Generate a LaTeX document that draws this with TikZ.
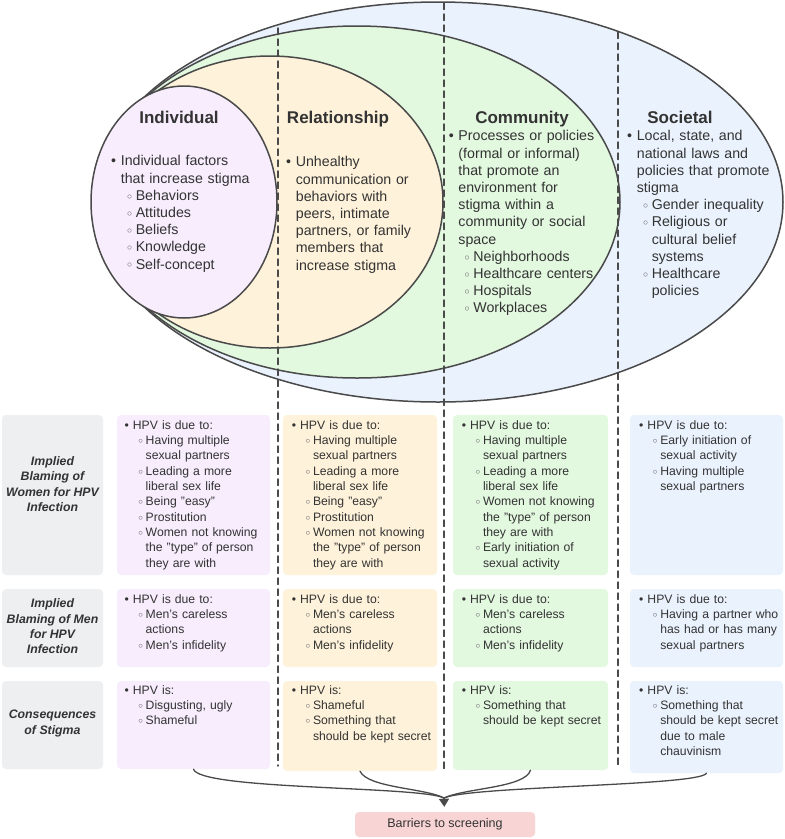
\documentclass[tikz,border=0pt]{standalone}
\usepackage{fontspec}
\setmainfont{Liberation Sans}
\usepackage{tikz}
\usetikzlibrary{positioning}
\usetikzlibrary{calc}
\usetikzlibrary{arrows.meta}
\definecolor{inkgray}{HTML}{4A4A4A}
\definecolor{txt}{HTML}{333333}
\definecolor{subgray}{HTML}{6A6A6A}
\definecolor{indfill}{HTML}{F7EDFD}
\definecolor{relfill}{HTML}{FEF2DA}
\definecolor{comfill}{HTML}{E2F8DF}
\definecolor{socfill}{HTML}{EAF2FD}
\definecolor{labfill}{HTML}{EEEFF1}
\definecolor{barfill}{HTML}{F9D4D4}
\newcommand{\bul}{\par\hangindent=0.68em\hangafter=1\noindent\makebox[0.68em][l]{\textbullet}}
\newcommand{\sbul}{\par\hangindent=1.73em\hangafter=1\noindent\hspace*{1.12em}\makebox[0.61em][l]{\raisebox{0.09em}{\textcolor{subgray}{$\scriptstyle\circ$}}}}
\tikzset{
  eltext/.style={anchor=north west,inner sep=0pt,text width=175pt,align=left,
    font=\fontsize{14.2}{17.2}\selectfont,text=txt},
  boxtext/.style={anchor=north west,inner sep=0pt,text width=160pt,align=left,
    font=\fontsize{12.2}{15.3}\selectfont,text=txt},
  lvltitle/.style={anchor=base,inner sep=0pt,font=\fontsize{17}{20}\selectfont\bfseries,text=txt},
  rowbox/.style={draw=none,rounded corners=4pt,inner sep=0pt},
  rowlabel/.style={inner sep=0pt,align=center,font=\fontsize{12.3}{15.3}\selectfont\bfseries\itshape,text=txt},
  ring/.style={draw=inkgray,line width=1.5pt},
  divider/.style={draw=inkgray,line width=1.4pt,dash pattern=on 6.5pt off 4.5pt},
  brace/.style={draw=inkgray,line width=1.3pt}
}
\begin{document}
\begin{tikzpicture}[x=1pt,y=-1pt,line cap=round,line join=round]
\useasboundingbox (0,0) rectangle (785,839);
\fill[white] (0,0) rectangle (785,839);
\draw[ring,fill=socfill] (438,202) ellipse [x radius=345pt,y radius=200pt];
\draw[ring,fill=comfill] (357,202) ellipse [x radius=263pt,y radius=176pt];
\draw[ring,fill=relfill] (270,202) ellipse [x radius=173pt,y radius=146pt];
\draw[ring,fill=indfill] (184,202) ellipse [x radius=93pt,y radius=116pt];
\draw[divider] (278,28) -- (278,766);
\draw[divider] (444,3) -- (444,772);
\draw[divider] (618,32) -- (618,766);
\node[lvltitle] (tind) at (179,123) {Individual};
\node[lvltitle] (trel) at (338,123) {Relationship};
\node[lvltitle] (tcom) at (522,123) {Community};
\node[lvltitle] (tsoc) at (680,123) {Societal};
\node[eltext] (xind) at (111,148.5) {\bul Individual factors\newline that increase stigma
  \sbul Behaviors \sbul Attitudes \sbul Beliefs \sbul Knowledge \sbul Self-concept\par};
\node[eltext] (xrel) at (286,149.5) {\bul Unhealthy\newline communication or\newline behaviors with\newline
  peers, intimate\newline partners, or family\newline members that\newline increase stigma\par};
\node[eltext] (xcom) at (448.6,123.5) {\bul Processes or policies\newline (formal or informal)\newline
  that promote an\newline environment for\newline stigma within a\newline community or social\newline space
  \sbul Neighborhoods \sbul Healthcare centers \sbul Hospitals \sbul Workplaces\par};
\node[eltext] (xsoc) at (627,123.5) {\bul Local, state, and\newline national laws and\newline
  policies that promote\newline stigma \sbul Gender inequality \sbul Religious or\newline cultural belief\newline
  systems \sbul Healthcare\newline policies\par};
\node[rowbox,fill=labfill,minimum width=101pt,minimum height=160pt] (l1) at (52.5,495) {};
\node[rowbox,fill=indfill,minimum width=153pt,minimum height=160pt] (w1) at (193.5,495) {};
\node[rowbox,fill=relfill,minimum width=154pt,minimum height=160pt] (w2) at (360,495) {};
\node[rowbox,fill=comfill,minimum width=155pt,minimum height=160pt] (w3) at (530.5,495) {};
\node[rowbox,fill=socfill,minimum width=153pt,minimum height=160pt] (w4) at (706.5,495) {};
\node[rowbox,fill=labfill,minimum width=101pt,minimum height=78pt] (l2) at (52.5,628) {};
\node[rowbox,fill=indfill,minimum width=153pt,minimum height=78pt] (m1) at (193.5,628) {};
\node[rowbox,fill=relfill,minimum width=154pt,minimum height=78pt] (m2) at (360,628) {};
\node[rowbox,fill=comfill,minimum width=155pt,minimum height=78pt] (m3) at (530.5,628) {};
\node[rowbox,fill=socfill,minimum width=153pt,minimum height=78pt] (m4) at (706.5,628) {};
\node[rowbox,fill=labfill,minimum width=101pt,minimum height=88pt] (l3) at (52.5,725) {};
\node[rowbox,fill=indfill,minimum width=153pt,minimum height=88pt] (c1) at (193.5,725) {};
\node[rowbox,fill=relfill,minimum width=154pt,minimum height=90pt] (c2) at (360,726) {};
\node[rowbox,fill=comfill,minimum width=155pt,minimum height=89pt] (c3) at (530.5,725.5) {};
\node[rowbox,fill=socfill,minimum width=153pt,minimum height=92pt] (c4) at (706.5,727) {};
\node[rowlabel] (ll1) at (52.5,484) {Implied\\Blaming of\\Women for HPV\\Infection};
\node[rowlabel] (ll2) at (52.5,626.3) {Implied\\Blaming of Men\\for HPV\\Infection};
\node[rowlabel] (ll3) at (52.5,723.4) {Consequences\\of Stigma};
\node[boxtext] (tw1) at (124.4,413.8) {\bul HPV is due to: \sbul Having multiple\newline sexual partners
  \sbul Leading a more\newline liberal sex life \sbul Being "easy" \sbul Prostitution
  \sbul Women not knowing\newline the "type" of person\newline they are with\par};
\node[boxtext] (tw2) at (291.7,413.8) {\bul HPV is due to: \sbul Having multiple\newline sexual partners
  \sbul Leading a more\newline liberal sex life \sbul Being "easy" \sbul Prostitution
  \sbul Women not knowing\newline the "type" of person\newline they are with\par};
\node[boxtext] (tw3) at (461.7,413.8) {\bul HPV is due to: \sbul Having multiple\newline sexual partners
  \sbul Leading a more\newline liberal sex life \sbul Women not knowing\newline the "type" of person\newline
  they are with \sbul Early initiation of\newline sexual activity\par};
\node[boxtext] (tw4) at (639,413.8) {\bul HPV is due to: \sbul Early initiation of\newline sexual activity
  \sbul Having multiple\newline sexual partners\par};
\node[boxtext] (tm1) at (124.4,587.8) {\bul HPV is due to: \sbul Men's careless\newline actions \sbul Men's infidelity\par};
\node[boxtext] (tm2) at (291.7,587.8) {\bul HPV is due to: \sbul Men's careless\newline actions \sbul Men's infidelity\par};
\node[boxtext] (tm3) at (461.7,587.8) {\bul HPV is due to: \sbul Men's careless\newline actions \sbul Men's infidelity\par};
\node[boxtext] (tm4) at (639,587.8) {\bul HPV is due to: \sbul Having a partner who\newline has had or has many\newline sexual partners\par};
\node[boxtext] (tc1) at (124.4,678.8) {\bul HPV is: \sbul Disgusting, ugly \sbul Shameful\par};
\node[boxtext] (tc2) at (291.7,678.8) {\bul HPV is: \sbul Shameful \sbul Something that\newline should be kept secret\par};
\node[boxtext] (tc3) at (461.7,678.8) {\bul HPV is: \sbul Something that\newline should be kept secret\par};
\node[boxtext] (tc4) at (639,678.8) {\bul HPV is: \sbul Something that\newline should be kept secret\newline due to male\newline chauvinism\par};
\node[rowbox,fill=barfill,minimum width=180pt,minimum height=25pt,
  font=\fontsize{12.5}{15}\selectfont,text=txt] (bar) at (445,824.5) {Barriers to screening};
\coordinate (conv) at (444,798);
\draw[brace] (c1.south) .. controls (200,790) and (420,786) .. (conv);
\draw[brace] (c2.south) .. controls (368,788) and (425,788) .. (conv);
\draw[brace] (c3.south) .. controls (525,788) and (465,788) .. (conv);
\draw[brace] (c4.south) .. controls (700,786) and (470,786) .. (conv);
\draw[brace,-{Triangle[width=10pt,length=8pt]},shorten >=5pt] (conv) -- (bar);
\end{tikzpicture}
\end{document}
